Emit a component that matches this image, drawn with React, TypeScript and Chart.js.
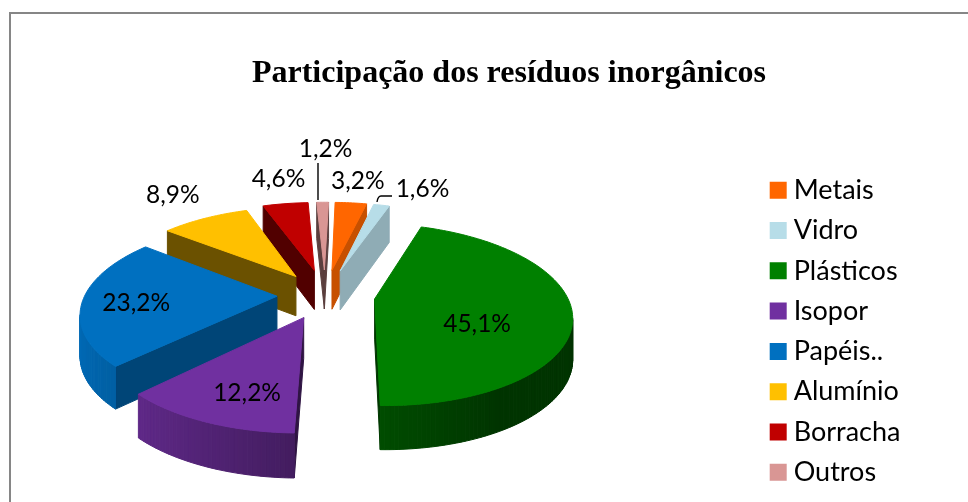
import React, { useEffect, useRef } from "react";
import { Chart, registerables } from "chart.js";

Chart.register(...registerables);

const categories = ["Metais", "Vidro", "Plásticos", "Isopor", "Papéis..", "Alumínio", "Borracha", "Outros"];
const shares = [3.2, 1.6, 45.1, 12.2, 23.2, 8.9, 4.6, 1.2];
const shareLabels = ["3,2%", "1,6%", "45,1%", "12,2%", "23,2%", "8,9%", "4,6%", "1,2%"];
const colours = ["#FF6600", "#B7DDE8", "#008000", "#7030A0", "#0070C0", "#FFC000", "#C00000", "#D99694"];
const explode = [58, 58, 50, 52, 48, 52, 58, 58];
const wallShade = [0.78, 0.78, 0.42, 0.42, 0.62, 0.42, 0.42, 0.42];
// label position: radial fraction of the slice and shift in px
const labelRadial = [1, 1, 0.5, 0.6, 0.7, 1, 1, 1];
const labelShiftX = [7, 41, 5, -2, -5, -32, -7, 3];
const labelShiftY = [-22, -16, 17, 17, 3, -23, -25, -53];

const PIE_CX = 325;
const PIE_CY = 295;
const PERSPECTIVE = 0.17;
const SQUASH = 87;
const DEPTH = 40;
const TEXT = "Lato, Carlito, sans-serif";

function shade(hex: string, f: number) {
  const n = parseInt(hex.slice(1), 16);
  const r = Math.round(((n >> 16) & 255) * f);
  const g = Math.round(((n >> 8) & 255) * f);
  const b = Math.round((n & 255) * f);
  return `rgb(${r},${g},${b})`;
}

function project(R: number, X: number, Y: number, z: number) {
  const s = 1 / (1 - PERSPECTIVE * Y);
  return { x: PIE_CX + R * X * s, y: PIE_CY + SQUASH * Y * s + z * DEPTH * Math.sqrt(s) };
}

type P = { x: number; y: number };
function area(p: P[]) {
  let a = 0;
  for (let i = 0; i < p.length; i++) {
    const q = p[(i + 1) % p.length];
    a += p[i].x * q.y - q.x * p[i].y;
  }
  return a;
}
function fillPoly(ctx: CanvasRenderingContext2D, p: P[], colour: string) {
  ctx.beginPath();
  p.forEach((q, i) => (i ? ctx.lineTo(q.x, q.y) : ctx.moveTo(q.x, q.y)));
  ctx.closePath();
  ctx.fillStyle = colour;
  ctx.strokeStyle = colour;
  ctx.lineWidth = 1;
  ctx.fill();
  ctx.stroke();
}

const pie3d = {
  id: "pie3d",
  beforeDraw(chart: any) {
    const { ctx, width, height } = chart;
    ctx.save();
    ctx.fillStyle = "#fff";
    ctx.fillRect(0, 0, width, height);
    ctx.strokeStyle = "#868686";
    ctx.lineWidth = 2;
    ctx.beginPath();
    ctx.moveTo(10, height);
    ctx.lineTo(10, 13);
    ctx.lineTo(width, 13);
    ctx.stroke();
    ctx.restore();
  },
  beforeDatasetsDraw(chart: any) {
    const { ctx } = chart;
    const arcs = chart.getDatasetMeta(0).data as any[];
    const slices = arcs.map((arc, i) => {
      const { startAngle, endAngle, outerRadius } = arc.getProps(["startAngle", "endAngle", "outerRadius"], true);
      const mid = (startAngle + endAngle) / 2;
      const e = (arc.options.offset || 0) / outerRadius;
      return { i, startAngle, endAngle, mid, R: outerRadius, ox: Math.cos(mid) * e, oy: Math.sin(mid) * e, colour: arc.options.backgroundColor };
    });
    ctx.save();
    [...slices]
      .sort((a, b) => a.oy - b.oy)
      .forEach((sl) => {
        const at = (ang: number, r: number, z: number) =>
          project(sl.R, sl.ox + Math.cos(ang) * r, sl.oy + Math.sin(ang) * r, z);
        const steps = Math.max(2, Math.ceil((sl.endAngle - sl.startAngle) / 0.02));
        const rim = (k: number, z: number) => at(sl.startAngle + ((sl.endAngle - sl.startAngle) * k) / steps, 1, z);
        const apexT = at(0, 0, 0);
        const apexB = at(0, 0, 1);
        const wallA = [apexT, rim(0, 0), rim(0, 1), apexB];
        if (area(wallA) < 0) fillPoly(ctx, wallA, shade(sl.colour, wallShade[sl.i]));
        const wallB = [rim(steps, 0), apexT, apexB, rim(steps, 1)];
        if (area(wallB) < 0) fillPoly(ctx, wallB, shade(sl.colour, wallShade[sl.i]));
        for (let k = 0; k < steps; k++) {
          const q = [rim(k, 0), rim(k + 1, 0), rim(k + 1, 1), rim(k, 1)];
          if (area(q) < 0) {
            const ang = sl.startAngle + ((sl.endAngle - sl.startAngle) * (k + 0.5)) / steps;
            const c = Math.cos(ang);
            const lit = c < 0 ? 0.59 + 0.36 * -c : 0.59 - 0.18 * Math.min(1, 2 * c);
            fillPoly(ctx, q, shade(sl.colour, lit));
          }
        }
        const top: P[] = [apexT];
        for (let k = 0; k <= steps; k++) top.push(rim(k, 0));
        fillPoly(ctx, top, sl.colour);
      });

    // leader lines
    ctx.strokeStyle = "#000";
    ctx.lineWidth = 1.4;
    ctx.beginPath();
    ctx.moveTo(318, 163);
    ctx.lineTo(318, 200);
    ctx.moveTo(392, 196);
    ctx.lineTo(381, 196);
    ctx.quadraticCurveTo(378, 196, 377, 202);
    ctx.stroke();

    // value labels
    ctx.fillStyle = "#000";
    ctx.font = `24.5px ${TEXT}`;
    ctx.textAlign = "center";
    ctx.textBaseline = "middle";
    slices.forEach((sl) => {
      const f = labelRadial[sl.i];
      const p = project(sl.R, sl.ox + Math.cos(sl.mid) * f, sl.oy + Math.sin(sl.mid) * f, 0);
      ctx.fillText(shareLabels[sl.i], p.x + labelShiftX[sl.i], p.y + labelShiftY[sl.i]);
    });
    ctx.restore();
    return false;
  },
};

export default function App() {
  const ref = useRef<HTMLCanvasElement>(null);
  useEffect(() => {
    const chart = new Chart(ref.current!, {
      type: "pie",
      data: {
        labels: categories,
        datasets: [{ data: shares, backgroundColor: colours, offset: explode, borderWidth: 0 }],
      },
      options: {
        animation: false,
        responsive: false,
        radius: 192,
        rotation: 1.5,
        layout: { padding: { left: 107.5, right: 57.5, top: 45, bottom: 0 } },
        plugins: {
          tooltip: { enabled: false },
          title: {
            display: true,
            text: "Participação dos resíduos inorgânicos",
            color: "#000",
            font: { family: "'Liberation Serif', serif", size: 32, weight: "bold" },
            padding: { top: 10, bottom: 10 },
          },
          legend: {
            position: "right",
            align: "start",
            // an empty legend title pushes the rows down to their place beside the pie
            title: { display: true, text: " ", font: { size: 12 }, padding: { top: 0, bottom: 104 } },
            labels: {
              boxWidth: 4,
              boxHeight: 4,
              padding: 13.3,
              color: "#000",
              font: { family: TEXT, size: 27 },
              // a thick same-coloured outline makes the 17px swatch sit close to its text
              generateLabels: () =>
                categories.map((text, i) => ({
                  text,
                  index: i,
                  hidden: false,
                  fontColor: "#000",
                  fillStyle: colours[i],
                  strokeStyle: colours[i],
                  lineWidth: 13,
                })),
            },
          },
        },
      },
      plugins: [pie3d],
    } as any);
    return () => chart.destroy();
  }, []);
  return (
    <div style={{ position: "absolute", left: 0, top: 0, width: 968, height: 502 }}>
      <canvas ref={ref} width={968} height={502} style={{ display: "block" }} />
    </div>
  );
}
